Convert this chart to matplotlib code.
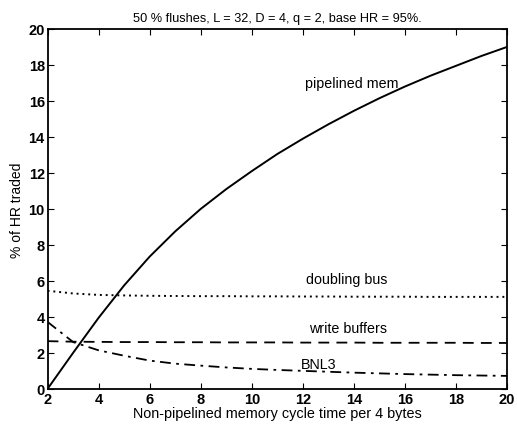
import matplotlib

matplotlib.use("Agg")
import matplotlib.pyplot as plt  # noqa: E402

plt.rcParams["font.family"] = ["Liberation Sans", "DejaVu Sans"]

# values
cycle = [2, 3, 4, 5, 6, 7, 8, 9, 10, 11, 12, 13, 14, 15, 16, 17, 18, 19, 20]
pipelined = [0.0, 2.0, 3.95, 5.75, 7.35, 8.75, 10.0, 11.1, 12.1, 13.05, 13.9,
             14.7, 15.45, 16.15, 16.8, 17.4, 17.95, 18.5, 19.0]
doubling = [5.45, 5.3, 5.22, 5.19, 5.17, 5.16, 5.15, 5.15, 5.14, 5.14, 5.13,
            5.13, 5.12, 5.12, 5.12, 5.11, 5.11, 5.11, 5.11]
write_buf = [2.65, 2.62, 2.61, 2.6, 2.6, 2.59, 2.59, 2.58, 2.58, 2.58, 2.57,
             2.57, 2.57, 2.56, 2.56, 2.56, 2.56, 2.55, 2.55]
bnl3 = [3.72, 2.6, 2.14, 1.84, 1.57, 1.4, 1.29, 1.19, 1.11, 1.05, 1.0,
        0.95, 0.9, 0.86, 0.82, 0.79, 0.76, 0.74, 0.72]

labels = ["pipelined mem", "doubling bus", "write buffers", "BNL3"]
label_pos = [(13.9, 17.0), (13.7, 6.1), (13.75, 3.38), (12.6, 1.38)]

fig = plt.figure(figsize=(5.17, 4.27), dpi=100)
ax = fig.add_axes([0.092, 0.087, 0.889, 0.843])

ax.plot(cycle, pipelined, color="black", lw=1.4, ls="-")
ax.plot(cycle, doubling, color="black", lw=1.4, ls=(0, (1, 2)))
ax.plot(cycle, write_buf, color="black", lw=1.3, ls=(0, (6, 4)))
ax.plot(cycle, bnl3, color="black", lw=1.3, ls=(0, (6, 3, 1.5, 3)))

for text, (x, y) in zip(labels, label_pos):
    ax.text(x, y, text, ha="center", va="center", fontsize=10.3)

ax.set_xlim(2, 20)
ax.set_ylim(0, 20)
ax.set_xticks(range(2, 21, 2))
ax.set_yticks(range(0, 21, 2))
ax.tick_params(direction="in", top=True, right=True, labelsize=10.5,
               length=4, pad=2)
for lbl in ax.get_xticklabels() + ax.get_yticklabels():
    lbl.set_fontweight("bold")
for sp in ax.spines.values():
    sp.set_linewidth(1.3)

ax.set_title("50 % flushes, L = 32, D = 4, q = 2, base HR = 95%.",
             fontsize=9.2, pad=6)
ax.set_xlabel("Non-pipelined memory cycle time per 4 bytes", fontsize=10.4,
              labelpad=0)
ax.set_ylabel("% of HR traded", fontsize=10, labelpad=3)

fig.savefig("out.png", dpi=100)
